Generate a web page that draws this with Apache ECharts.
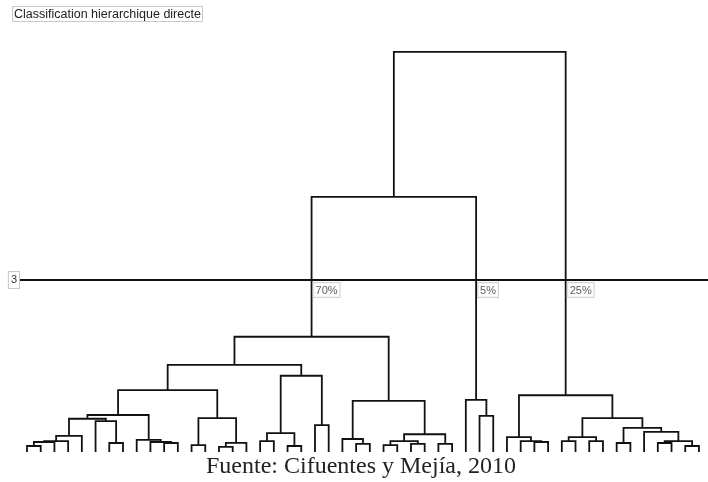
<!DOCTYPE html>
<html>
<head>
<meta charset="utf-8">
<script src="https://cdn.jsdelivr.net/npm/echarts@6/dist/echarts.min.js"></script>
<style>
html,body{margin:0;padding:0;background:#fff;}
#chart{width:708px;height:482px;}
</style>
</head>
<body>
<div id="chart"></div>
<script>
// dendrogram: 50 leaves (0..49), merges listed bottom-up, node ids continue from 50
const leafCount = 50;
const mergeLeft  = [0,50,51,52,6,5,53,10,9,8,56,12,14,62,61,60,17,19,66,21,68,65,24,23,26,28,74,30,76,73,71,33,32,37,36,35,39,41,86,43,46,48,90,45,89,88,85,80,97];
const mergeRight = [1,2,3,4,7,54,55,11,57,58,59,13,15,16,63,64,18,20,67,22,69,70,25,72,27,29,75,31,77,78,79,34,81,38,83,84,40,42,87,44,47,49,91,92,93,94,95,82,96];
const mergeHeight = [0.105,0.174,0.19,0.28,0.157,0.54,0.58,0.157,0.174,0.21,0.645,0.12,0.09,0.16,0.59,1.08,0.19,0.105,0.33,0.47,1.33,1.52,0.14,0.227,0.12,0.14,0.19,0.14,0.31,0.89,2.01,0.63,0.91,0.174,0.19,0.26,0.19,0.19,0.26,0.157,0.157,0.105,0.19,0.35,0.42,0.59,0.99,4.45,6.98];

// cut level and the clusters it gives
const cutLevel = 3;
const clusterNodes = [80, 82, 96];
const clusterLabels = ['70%', '5%', '25%'];

// node positions: leaf = its index, merge = middle of its two children
const nodeX = [], nodeH = [];
for (let i = 0; i < leafCount; i++) { nodeX.push(i); nodeH.push(0); }
mergeLeft.forEach((l, k) => {
  const r = mergeRight[k];
  nodeX.push((nodeX[l] + nodeX[r]) / 2);
  nodeH.push(mergeHeight[k]);
});

const links = mergeLeft.map((l, k) => {
  const r = mergeRight[k];
  return [nodeX[l], nodeH[l], nodeX[r], nodeH[r], mergeHeight[k]];
});

const clusterPoints = clusterNodes.map((n, i) => ({
  value: [nodeX[n], cutLevel],
  label: { formatter: clusterLabels[i] }
}));

const boxLabel = {
  fontFamily: 'Liberation Sans, Arial, sans-serif',
  fontSize: 11,
  color: '#333',
  backgroundColor: '#fff',
  borderColor: '#c8c8c8',
  borderWidth: 1,
  padding: [2, 2, 1, 2]
};

var myChart = echarts.init(document.getElementById('chart'));

var option = {
  animation: false,
  title: [
    {
      text: 'Classification hierarchique directe',
      left: 12,
      top: 6,
      padding: [2, 2, 1, 2],
      borderColor: '#c8c8c8',
      borderWidth: 1,
      textStyle: { fontFamily: 'Liberation Sans, Arial, sans-serif', fontSize: 12.5, fontWeight: 'normal', color: '#222' }
    },
    {
      text: 'Fuente: Cifuentes y Mejía, 2010',
      left: 206,
      top: 455,
      padding: 0,
      textStyle: { fontFamily: 'Liberation Serif, Times New Roman, serif', fontSize: 24, fontWeight: 'normal', color: '#222' }
    }
  ],
  grid: { left: 20, right: 0, top: 50.67, bottom: 30 },
  xAxis: { type: 'value', min: -0.51, max: 49.66, show: false },
  yAxis: { type: 'value', min: 0, max: 7, show: false },
  series: [
    {
      type: 'custom',
      silent: true,
      clip: false,
      encode: { x: [0, 2], y: [1, 3, 4] },
      renderItem: function (params, api) {
        const a = api.coord([api.value(0), api.value(1)]);
        const b = api.coord([api.value(0), api.value(4)]);
        const c = api.coord([api.value(2), api.value(4)]);
        const d = api.coord([api.value(2), api.value(3)]);
        return {
          type: 'polyline',
          shape: { points: [a, b, c, d] },
          style: { stroke: '#111', lineWidth: 1.8, fill: null }
        };
      },
      data: links
    },
    {
      type: 'scatter',
      silent: true,
      symbolSize: 0,
      z: 5,
      label: Object.assign({ show: true, position: [2, 3], align: 'left', verticalAlign: 'top' }, boxLabel),
      markLine: {
        silent: true,
        symbol: ['none', 'none'],
        lineStyle: { color: '#111', width: 1.8, type: 'solid' },
        label: Object.assign({ show: true, position: 'start', distance: 1, formatter: String(cutLevel) }, boxLabel, { padding: [3, 2, 2, 2] }),
        data: [{ yAxis: cutLevel }]
      },
      data: clusterPoints
    }
  ]
};

myChart.setOption(option);
</script>
</body>
</html>
